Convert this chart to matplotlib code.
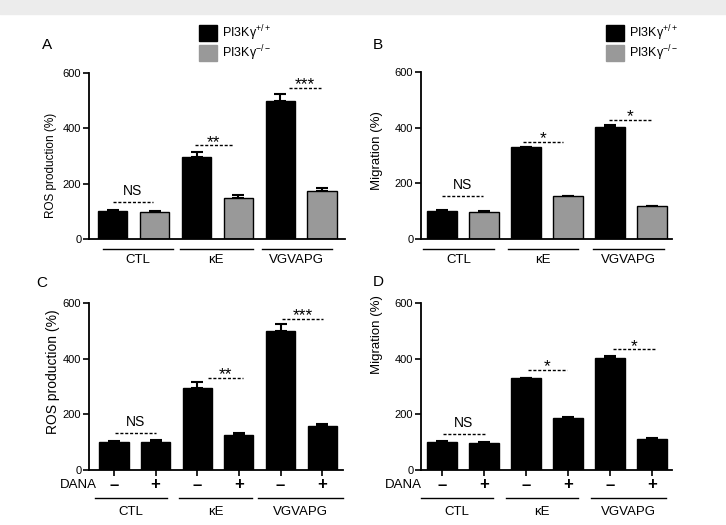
import matplotlib
matplotlib.use('Agg')
import matplotlib.pyplot as plt
import matplotlib.transforms as mtransforms
from matplotlib.patches import Rectangle
import numpy as np

plt.rcParams['font.family'] = ['Liberation Sans', 'DejaVu Sans']
plt.rcParams['mathtext.fontset'] = 'custom'
plt.rcParams['mathtext.rm'] = 'Liberation Sans'
plt.rcParams['mathtext.default'] = 'regular'

# Données (en %)
groups = ['CTL', 'κE', 'VGVAPG']
legend_labels = ['PI3Kγ$^{+/+}$', 'PI3Kγ$^{−/−}$']
dana_labels = ['–', '+']

ros_wt = [100, 295, 498]
ros_wt_err = [4, 19, 25]
ros_ko = [97, 148, 174]
ros_ko_err = [4, 11, 9]

mig_wt = [101, 330, 402]
mig_wt_err = [3, 2, 7]
mig_ko = [98, 154, 118]
mig_ko_err = [4, 2, 2]

ros_dana_minus = [102, 294, 498]
ros_dana_minus_err = [3, 22, 25]
ros_dana_plus = [102, 127, 158]
ros_dana_plus_err = [4, 5, 8]

mig_dana_minus = [100, 330, 402]
mig_dana_minus_err = [3, 2, 6]
mig_dana_plus = [96, 186, 113]
mig_dana_plus_err = [4, 3, 2]

sig_ros = ['NS', '**', '***']
sig_mig = ['NS', '*', '*']
sig_h_A = [133, 338, 546]
sig_h_B = [155, 350, 428]
sig_h_C = [134, 330, 542]
sig_h_D = [128, 359, 434]

W, H = 726, 525
fig = plt.figure(figsize=(W / 100, H / 100), dpi=100)


def fx(x):
    return x / W


def fy(y):
    return 1 - y / H


def make_ax(left, right, top, bottom):
    return fig.add_axes([fx(left), fy(bottom), (right - left) / W, (bottom - top) / H])


# bandeau gris en haut
fig.patches.append(Rectangle((0, fy(14)), 1, 14 / H, transform=fig.transFigure,
                             color='#ececec', zorder=0))

black = '#000000'
gray = '#999999'


def panel(ax, v1, e1, v2, e2, c2, sig, sig_h, sig_spans, lines, xlim, dana=False, dana_x=-0.45):
    x1 = np.arange(3) * 2
    x2 = x1 + 1
    ax.bar(x1, v1, width=0.7, color=black, edgecolor='black', linewidth=1, zorder=2)
    ax.bar(x2, v2, width=0.7, color=c2, edgecolor='black', linewidth=1, zorder=2)
    ax.errorbar(x1, v1, yerr=[np.zeros(3), e1], fmt='none', ecolor='black',
                elinewidth=1.5, capsize=4.5, capthick=1.5, zorder=1)
    ax.errorbar(x2, v2, yerr=[np.zeros(3), e2], fmt='none', ecolor='black',
                elinewidth=1.5, capsize=4.5, capthick=1.5, zorder=1)
    ax.set_ylim(0, 600)
    ax.set_xlim(*xlim)
    ax.set_yticks([0, 200, 400, 600])
    for s in ['top', 'right']:
        ax.spines[s].set_visible(False)
    for s in ['left', 'bottom']:
        ax.spines[s].set_linewidth(1.3)
    ax.tick_params(axis='y', direction='out', length=4, width=1.2, labelsize=8, pad=1.5)
    if dana:
        ax.set_xticks(np.arange(6))
        ax.tick_params(axis='x', direction='out', length=4, width=1.2, labelbottom=False)
    else:
        ax.set_xticks([])

    for (a, b), s, h in zip(sig_spans, sig, sig_h):
        ax.plot([a, b], [h, h], color='black', linestyle=(0, (2.2, 1.3)), linewidth=1, zorder=3)
        if s == 'NS':
            ax.text((a + b) / 2, h + 15, s, ha='center', va='bottom', fontsize=10)
        else:
            ax.text((a + b) / 2, h - 16, s, ha='center', va='bottom', fontsize=12.5)

    trans = mtransforms.blended_transform_factory(ax.transData, ax.transAxes)
    hpx = ax.get_position().height * H
    if dana:
        line_off, lab_off = 28, 42
        for i in range(6):
            ax.text(i, -15 / hpx, dana_labels[i % 2], transform=trans, ha='center', va='center',
                    fontsize=12, fontweight='bold')
        ax.text(dana_x, -15 / hpx, 'DANA', transform=trans, ha='right', va='center', fontsize=9.5)
    else:
        line_off, lab_off = 10, 21
    for (a, b), g in zip(lines, groups):
        ax.plot([a, b], [-line_off / hpx] * 2, transform=trans, color='black',
                linewidth=1, clip_on=False)
        ax.text((a + b) / 2, -lab_off / hpx, g, transform=trans, ha='center', va='center',
                fontsize=9.5)


axA = make_ax(89, 345, 73, 239)
panel(axA, ros_wt, ros_wt_err, ros_ko, ros_ko_err, gray, sig_ros, sig_h_A,
      [(0, 0.96), (1.96, 2.87), (4.21, 4.98)],
      [(-0.24, 1.44), (1.6, 3.35), (3.56, 5.24)], (-0.57, 5.55))

axB = make_ax(421, 672, 72, 239)
panel(axB, mig_wt, mig_wt_err, mig_ko, mig_ko_err, gray, sig_mig, sig_h_B,
      [(0, 0.98), (1.93, 2.88), (3.98, 4.98)],
      [(-0.45, 1.24), (1.57, 3.24), (3.6, 5.29)], (-0.5, 5.48))

axC = make_ax(89, 343, 303, 470)
panel(axC, ros_dana_minus, ros_dana_minus_err, ros_dana_plus, ros_dana_plus_err, black,
      sig_ros, sig_h_C,
      [(0.02, 1.0), (2.26, 3.1), (4.04, 5.02)],
      [(-0.46, 1.27), (1.56, 3.32), (3.46, 5.5)], (-0.6, 5.5), dana=True, dana_x=-0.41)

axD = make_ax(421, 672, 303, 470)
panel(axD, mig_dana_minus, mig_dana_minus_err, mig_dana_plus, mig_dana_plus_err, black,
      sig_mig, sig_h_D,
      [(0.02, 1.02), (2.05, 2.98), (4.07, 5.07)],
      [(-0.5, 1.21), (1.52, 3.24), (3.55, 5.33)], (-0.5, 5.48), dana=True, dana_x=-0.48)

# titres des axes y
fig.text(fx(51), fy(165), 'ROS production (%)', rotation=90, ha='center', va='center', fontsize=8.5)
fig.text(fx(377), fy(151), 'Migration (%)', rotation=90, ha='center', va='center', fontsize=9.5)
fig.text(fx(53), fy(372), 'ROS production (%)', rotation=90, ha='center', va='center', fontsize=10)
fig.text(fx(377), fy(335), 'Migration (%)', rotation=90, ha='center', va='center', fontsize=9.5)

# lettres des panneaux
for lab, (x, y) in zip('ABCD', [(47, 45), (378, 45), (42, 283), (378, 282)]):
    fig.text(fx(x), fy(y), lab, ha='center', va='center', fontsize=11)

# légendes (A et B)
for lx in [199, 606]:
    for (top, c), lab in zip([(25, black), (45, gray)], legend_labels):
        fig.patches.append(Rectangle((fx(lx), fy(top + 16)), 18 / W, 16 / H,
                                     transform=fig.transFigure, color=c))
        fig.text(fx(lx + 23), fy(top + 8), lab, ha='left', va='center', fontsize=9)

fig.savefig('out.png', dpi=100)
